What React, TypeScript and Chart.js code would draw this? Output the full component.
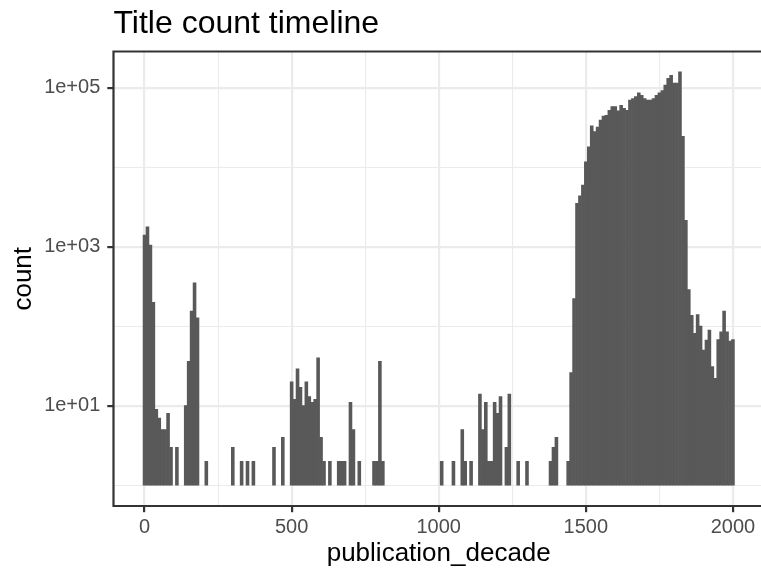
import React, { useEffect, useRef } from "react";
import { Chart, registerables } from "chart.js";

Chart.register(...registerables);

// ---- data (decades with a visible bar; all other decades have count <= 1) ----
const decades = [
  0, 10, 20, 30, 40, 50, 60, 70, 80, 90, 110, 140, 150, 160, 170, 180, 210,
  300, 330, 350, 370, 440, 470,
  500, 510, 520, 530, 540, 550, 560, 570, 580, 590, 600, 610, 630, 660, 670, 680,
  700, 710, 730, 780, 790, 800, 810,
  1010, 1050, 1080, 1090, 1110, 1140, 1150, 1160, 1170, 1180, 1190, 1200, 1210,
  1230, 1240, 1270, 1300, 1380, 1390, 1400,
  1440, 1450, 1460, 1470, 1480, 1490, 1500, 1510, 1520, 1530, 1540, 1550, 1560,
  1570, 1580, 1590, 1600, 1610, 1620, 1630, 1640, 1650, 1660, 1670, 1680, 1690,
  1700, 1710, 1720, 1730, 1740, 1750, 1760, 1770, 1780, 1790, 1800, 1810, 1820,
  1830, 1840, 1850, 1860, 1870, 1880, 1890, 1900, 1910, 1920, 1930, 1940, 1950,
  1960, 1970, 1980, 1990, 2000,
];
const counts = [
  1400, 1780, 1050, 200, 9, 7, 5, 5, 8, 3, 3, 10, 36, 155, 350, 127, 2,
  3, 2, 2, 2, 3, 4,
  20, 12, 29, 17, 10, 20, 13, 11, 12, 40, 4, 2, 2, 2, 2, 2,
  11, 5, 2, 2, 2, 36, 2,
  2, 2, 5, 2, 2, 14, 5, 11, 2, 2, 11, 8, 13,
  3, 14, 2, 2, 2, 3, 4,
  2, 26, 223, 3500, 4360, 5940, 11700, 18000, 33000, 28000, 32000, 39000, 44000,
  45000, 52000, 58000, 58000, 51000, 60000, 55000, 52000, 70000, 73000, 77000, 86000, 80000,
  73000, 70000, 70000, 73000, 80000, 86000, 92000, 108000, 131000, 143000, 114000, 114000, 158000,
  24500, 2150, 289, 137, 81, 140, 100, 50, 67, 89, 31, 22, 68,
  85, 155, 85, 65, 68,
];
const barBase = 1;

const xMajorTicks = [0, 500, 1000, 1500, 2000];
const xMajorLabels = ["0", "500", "1000", "1500", "2000"];
const xMinorTicks = [250, 750, 1250, 1750];
const yMajorTicks = [10, 1000, 100000];
const yMajorLabels = ["1e+01", "1e+03", "1e+05"];
const yMinorTicks = [1, 100, 10000];

const titleText = "Title count timeline";
const xTitleText = "publication_decade";
const yTitleText = "count";

// ---- layout / style ----
const W = 761;
const H = 570;
const FONT = "'Liberation Sans', Arial, Helvetica, sans-serif";
const PANEL_LEFT = 113.5;
const PANEL_TOP = 51.5;
const XAXIS_H = 64;
const X_MIN = -105.5;
const X_MAX = 2095.4;
const X_PANEL_MAX = 2105.5;
const Y_MIN = 0.547;
const Y_MAX = 285000;
const GRID = "#EBEBEB";
const DARK = "#333333";
const BAR = "#595959";
const TICK_TEXT = "#4D4D4D";

const decorPlugin = {
  id: "decor",
  afterDraw(chart: any) {
    const { ctx, chartArea: a } = chart;
    const xs = chart.scales.x;
    const panelRight = xs.getPixelForValue(X_PANEL_MAX);
    ctx.save();
    // panel border (right side lies outside the canvas)
    ctx.strokeStyle = DARK;
    ctx.lineWidth = 2.2;
    ctx.beginPath();
    ctx.moveTo(a.right + 10, a.top);
    ctx.lineTo(a.left, a.top);
    ctx.lineTo(a.left, a.bottom);
    ctx.lineTo(a.right + 10, a.bottom);
    ctx.stroke();
    // title
    ctx.fillStyle = "#000000";
    ctx.textBaseline = "alphabetic";
    ctx.textAlign = "left";
    ctx.font = `32px ${FONT}`;
    ctx.fillText(titleText, a.left, 33);
    // x title
    ctx.font = `26px ${FONT}`;
    ctx.textAlign = "center";
    ctx.fillText(xTitleText, (a.left + panelRight) / 2, 561);
    // y title
    ctx.save();
    ctx.translate(31, (a.top + a.bottom) / 2);
    ctx.rotate(-Math.PI / 2);
    ctx.fillText(yTitleText, 0, 0);
    ctx.restore();
    ctx.restore();
  },
};

export default function App() {
  const ref = useRef<HTMLCanvasElement>(null);

  useEffect(() => {
    if (!ref.current) return;
    const points = decades.map((d, i) => ({ x: d, y: [barBase, counts[i]] }));
    const xAll = [...xMajorTicks, ...xMinorTicks].sort((a, b) => a - b);
    const yAll = [...yMajorTicks, ...yMinorTicks].sort((a, b) => a - b);
    const chart = new Chart(ref.current, {
      type: "bar",
      data: {
        datasets: [
          {
            data: points as any,
            backgroundColor: BAR,
            borderWidth: 0,
            barPercentage: 1,
            categoryPercentage: 1,
          },
        ],
      },
      options: {
        responsive: false,
        animation: false,
        devicePixelRatio: 1,
        events: [],
        layout: { padding: { top: PANEL_TOP, left: 0, right: 0, bottom: 0 } },
        plugins: {
          legend: { display: false },
          tooltip: { enabled: false },
          title: { display: false },
        },
        scales: {
          x: {
            type: "linear",
            offset: false,
            min: X_MIN,
            max: X_MAX,
            bounds: "data",
            afterFit: (s: any) => {
              s.height = XAXIS_H;
            },
            afterBuildTicks: (s: any) => {
              s.ticks = xAll.map((v) => ({ value: v }));
            },
            ticks: {
              autoSkip: false,
              maxRotation: 0,
              minRotation: 0,
              padding: 3.3,
              color: TICK_TEXT,
              font: { family: FONT, size: 20 },
              callback: (v: any) => {
                const i = xMajorTicks.indexOf(Number(v));
                return i >= 0 ? xMajorLabels[i] : "";
              },
            },
            grid: {
              offset: false,
              color: GRID,
              lineWidth: (c: any) => (xMajorTicks.includes(c.tick?.value) ? 2.2 : 1.1),
              drawTicks: true,
              tickLength: 6.2,
              tickColor: (c: any) => (xMajorTicks.includes(c.tick?.value) ? DARK : "rgba(0,0,0,0)"),
              tickWidth: 2.2,
            },
            border: { display: false },
          },
          y: {
            type: "logarithmic",
            min: Y_MIN,
            max: Y_MAX,
            bounds: "data",
            afterFit: (s: any) => {
              s.width = PANEL_LEFT;
            },
            afterBuildTicks: (s: any) => {
              s.ticks = yAll.map((v) => ({ value: v }));
            },
            ticks: {
              autoSkip: false,
              padding: 7,
              color: TICK_TEXT,
              font: { family: FONT, size: 20 },
              callback: (v: any) => {
                const i = yMajorTicks.indexOf(Number(v));
                return i >= 0 ? yMajorLabels[i] : "";
              },
            },
            grid: {
              color: GRID,
              lineWidth: (c: any) => (yMajorTicks.includes(c.tick?.value) ? 2.2 : 1.1),
              drawTicks: true,
              tickLength: 6.2,
              tickColor: (c: any) => (yMajorTicks.includes(c.tick?.value) ? DARK : "rgba(0,0,0,0)"),
              tickWidth: 2.2,
            },
            border: { display: false },
          },
        },
      } as any,
      plugins: [decorPlugin],
    });
    return () => chart.destroy();
  }, []);

  return (
    <div style={{ position: "absolute", left: 0, top: 0, width: W, height: H, background: "#ffffff" }}>
      <canvas ref={ref} width={W} height={H} style={{ display: "block", width: W, height: H }} />
    </div>
  );
}
